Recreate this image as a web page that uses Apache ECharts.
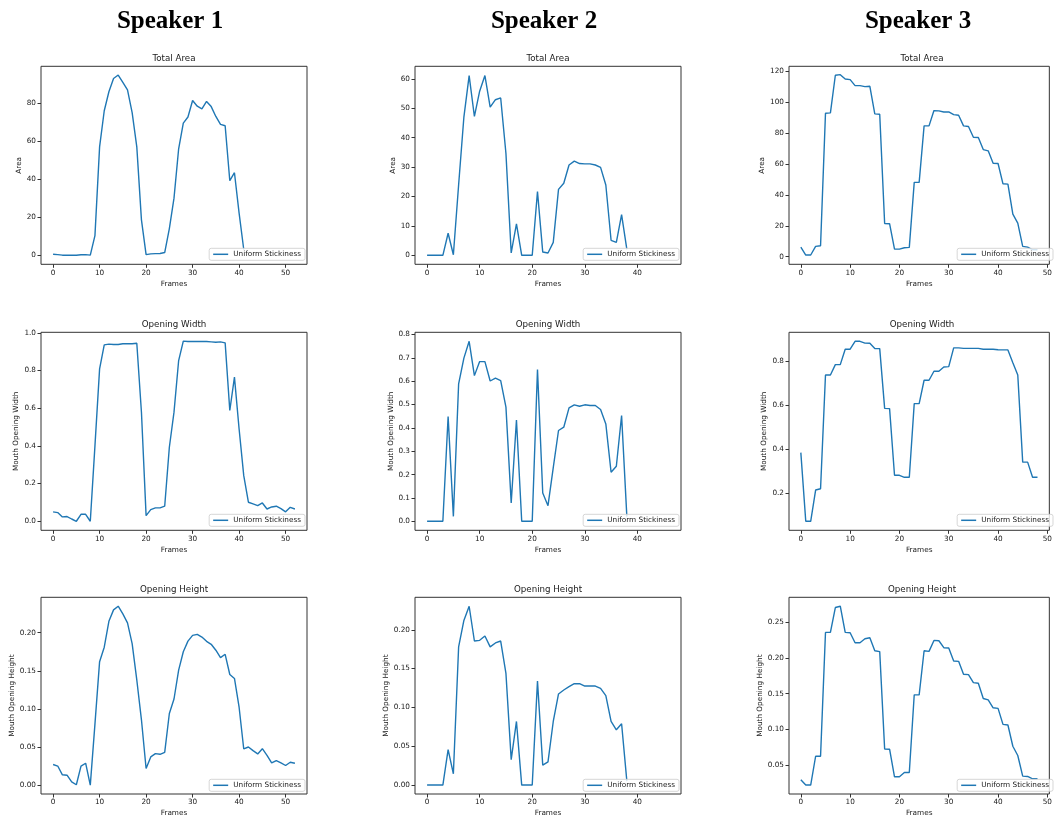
<!DOCTYPE html>
<html>
<head>
<meta charset="utf-8">
<script src="https://cdn.jsdelivr.net/npm/echarts@6/dist/echarts.min.js"></script>
<style>
html, body { margin: 0; padding: 0; background: #fff; }
#chart { width: 1055px; height: 818px; }
</style>
</head>
<body>
<div id="chart"></div>
<script>
var speakers = ['Speaker 1', 'Speaker 2', 'Speaker 3']
var metrics = ['Total Area', 'Opening Width', 'Opening Height']
var yNames = ['Area', 'Mouth Opening Width', 'Mouth Opening Height']
var seriesName = 'Uniform Stickiness'

// one value per frame (frame = index)
var area1 = [0.5, 0.3, 0, 0, 0, 0, 0.2, 0.3, 0, 10.3, 57, 76, 86, 93, 94.8, 91, 87, 75, 57, 18.6, 0.3, 0.7, 0.8, 0.9, 1.4, 14, 30, 56, 69.5, 72.7, 81.4, 78.4, 77, 80.9, 78.2, 73, 68.8, 68.1, 39.2, 43.4, 22.1, 3]
var area2 = [0, 0, 0, 0, 7.5, 0.2, 24, 47, 61.1, 47.2, 55.8, 61.1, 50.4, 52.9, 53.5, 34.6, 0.8, 10.7, 0, 0, 0, 21.7, 1.1, 0.8, 4.4, 22.4, 24.5, 30.7, 32, 31.2, 31.1, 31.1, 30.7, 29.9, 23.9, 5.1, 4.4, 13.8, 2]
var area3 = [6.2, 1.1, 1.1, 6.7, 7.1, 92.7, 92.9, 117.2, 117.6, 114.8, 114.4, 110.5, 110.5, 109.9, 110.1, 92.3, 92, 21.5, 21.3, 4.9, 4.9, 5.8, 6, 48, 48, 84.5, 84.5, 94.4, 94.2, 93.5, 93.5, 91.8, 91.4, 84.5, 84.1, 77.2, 77, 69.2, 68.4, 60.4, 60.2, 47.1, 46.9, 27.5, 21.7, 6.7, 6.2, 4.5, 4.5]

var width1 = [0.05, 0.046, 0.023, 0.025, 0.012, 0, 0.037, 0.037, 0, 0.40, 0.809, 0.936, 0.94, 0.938, 0.938, 0.942, 0.942, 0.942, 0.945, 0.579, 0.03, 0.062, 0.071, 0.071, 0.08, 0.393, 0.579, 0.853, 0.956, 0.954, 0.954, 0.954, 0.954, 0.954, 0.952, 0.95, 0.952, 0.947, 0.588, 0.765, 0.49, 0.242, 0.101, 0.092, 0.083, 0.097, 0.065, 0.076, 0.08, 0.067, 0.05, 0.074, 0.065]
var width2 = [0, 0, 0, 0, 0.449, 0.021, 0.589, 0.699, 0.771, 0.624, 0.684, 0.684, 0.601, 0.613, 0.603, 0.489, 0.079, 0.434, 0, 0, 0, 0.65, 0.121, 0.067, 0.23, 0.389, 0.403, 0.486, 0.499, 0.493, 0.499, 0.496, 0.496, 0.479, 0.417, 0.21, 0.236, 0.453, 0.02]
var width3 = [0.385, 0.073, 0.073, 0.215, 0.221, 0.738, 0.738, 0.785, 0.785, 0.855, 0.855, 0.891, 0.891, 0.883, 0.882, 0.858, 0.858, 0.586, 0.585, 0.282, 0.282, 0.273, 0.273, 0.608, 0.608, 0.714, 0.714, 0.755, 0.755, 0.774, 0.776, 0.861, 0.861, 0.859, 0.859, 0.859, 0.859, 0.855, 0.855, 0.855, 0.853, 0.852, 0.852, 0.794, 0.738, 0.342, 0.342, 0.273, 0.273]

var height1 = [0.027, 0.025, 0.0135, 0.013, 0.0043, 0.0004, 0.0248, 0.0287, 0, 0.08, 0.162, 0.181, 0.215, 0.23, 0.2348, 0.2248, 0.213, 0.1857, 0.138, 0.0857, 0.0217, 0.037, 0.0413, 0.0404, 0.043, 0.094, 0.113, 0.151, 0.175, 0.189, 0.1965, 0.1978, 0.1943, 0.1887, 0.1848, 0.177, 0.1674, 0.1717, 0.1452, 0.14, 0.1022, 0.0474, 0.05, 0.0452, 0.0409, 0.0478, 0.0391, 0.0291, 0.0322, 0.0291, 0.0257, 0.03, 0.0287]
var height2 = [0, 0, 0, 0, 0.0456, 0.0145, 0.178, 0.212, 0.2303, 0.1855, 0.1864, 0.1919, 0.178, 0.183, 0.1855, 0.1437, 0.0328, 0.0819, 0, 0, 0, 0.1339, 0.0256, 0.0299, 0.0819, 0.1173, 0.1224, 0.1267, 0.1305, 0.1305, 0.1275, 0.1275, 0.1275, 0.1245, 0.1151, 0.0819, 0.0712, 0.0789, 0.005]
var height3 = [0.0296, 0.0222, 0.0222, 0.0625, 0.0625, 0.2357, 0.2357, 0.2705, 0.2723, 0.2357, 0.2352, 0.2213, 0.2213, 0.2268, 0.2282, 0.2101, 0.2088, 0.0727, 0.0723, 0.0338, 0.0338, 0.0398, 0.0398, 0.1484, 0.1484, 0.2101, 0.2092, 0.2245, 0.224, 0.2143, 0.2138, 0.1957, 0.1952, 0.1771, 0.1767, 0.1655, 0.1646, 0.1433, 0.1414, 0.1303, 0.1294, 0.1071, 0.1062, 0.0765, 0.0635, 0.0347, 0.0342, 0.031, 0.031]

// tick labels
var xTicks = [[0, 10, 20, 30, 40, 50], [0, 10, 20, 30, 40], [0, 10, 20, 30, 40, 50]]
var areaTicks = [[0, 20, 40, 60, 80], [0, 10, 20, 30, 40, 50, 60], [0, 20, 40, 60, 80, 100, 120]]
var widthTicks = [[0, 0.2, 0.4, 0.6, 0.8, 1.0], [0, 0.1, 0.2, 0.3, 0.4, 0.5, 0.6, 0.7, 0.8], [0.2, 0.4, 0.6, 0.8]]
var heightTicks = [[0, 0.05, 0.10, 0.15, 0.20], [0, 0.05, 0.10, 0.15, 0.20], [0.05, 0.10, 0.15, 0.20, 0.25]]

// axis extents (matplotlib auto margins)
var xRange = [[-2.6, 54.6], [-2.3, 48.3], [-2.4, 50.4]]
var yRange = [
  [[-4.8, 99.4], [-3.06, 64.26], [-4.9, 123.0]],
  [[-0.048, 1.003], [-0.0386, 0.8096], [0.032, 0.932]],
  [[-0.0117, 0.2465], [-0.0115, 0.2418], [0.0097, 0.2848]]
]

var rows = [[area1, area2, area3], [width1, width2, width3], [height1, height2, height3]]
var yTicks = [areaTicks, widthTicks, heightTicks]
var decimals = [0, 1, 2]

// layout
var colLeft = [41, 415, 789]
var rowTop = [66.3, 332.3, 597.3]
var plotW = 266
var plotH = 198
var yNameGap = [[18, 18, 23], [21, 20, 21], [25, 24, 25]]
var font = 'DejaVu Sans'
var ink = '#1a1a1a'

var option = {
  animation: false,
  backgroundColor: '#fff',
  title: [],
  grid: [],
  xAxis: [],
  yAxis: [],
  legend: [],
  series: []
}

speakers.forEach(function (s, c) {
  option.title.push({
    text: s,
    left: colLeft[c] + plotW / 2 - 4,
    top: 9,
    textAlign: 'center',
    padding: 0,
    textStyle: { fontFamily: 'Liberation Serif', fontWeight: 'bold', fontSize: 25, color: '#000' }
  })
})

rows.forEach(function (row, r) {
  row.forEach(function (values, c) {
    var i = r * 3 + c
    var left = colLeft[c]
    var top = rowTop[r]
    var d = decimals[r]

    option.title.push({
      text: metrics[r],
      left: left + plotW / 2,
      top: top - 12.5,
      textAlign: 'center',
      padding: 0,
      textStyle: { fontFamily: font, fontWeight: 'normal', fontSize: 8.7, color: ink }
    })

    option.grid.push({
      left: left,
      top: top,
      width: plotW,
      height: plotH,
      show: true,
      borderColor: '#333',
      borderWidth: 1,
      backgroundColor: 'transparent'
    })

    option.xAxis.push({
      gridIndex: i,
      type: 'value',
      min: xRange[c][0],
      max: xRange[c][1],
      name: 'Frames',
      nameLocation: 'middle',
      nameGap: 16,
      nameTextStyle: { fontFamily: font, fontSize: 7.3, color: ink },
      axisLine: { show: false, onZero: false },
      splitLine: { show: false },
      axisTick: { show: true, length: 3.5, customValues: xTicks[c], lineStyle: { color: '#333', width: 1 } },
      axisLabel: { customValues: xTicks[c], margin: 5, fontFamily: font, fontSize: 7.3, color: ink }
    })

    option.yAxis.push({
      gridIndex: i,
      type: 'value',
      min: yRange[r][c][0],
      max: yRange[r][c][1],
      name: yNames[r],
      nameLocation: 'middle',
      nameGap: yNameGap[r][c],
      nameTextStyle: { fontFamily: font, fontSize: 7.3, color: ink },
      axisLine: { show: false, onZero: false },
      splitLine: { show: false },
      axisTick: { show: true, length: 3.5, customValues: yTicks[r][c], lineStyle: { color: '#333', width: 1 } },
      axisLabel: {
        customValues: yTicks[r][c],
        margin: 5,
        fontFamily: font,
        fontSize: 7.3,
        color: ink,
        formatter: function (v) { return Number(v).toFixed(d) }
      }
    })

    option.series.push({
      name: seriesName,
      type: 'line',
      xAxisIndex: i,
      yAxisIndex: i,
      symbol: 'none',
      data: values.map(function (v, k) { return [k, v] }),
      lineStyle: { color: '#1f77b4', width: 1.4 },
      itemStyle: { color: '#1f77b4' }
    })

    option.legend.push({
      data: [seriesName],
      right: 1055 - (left + plotW) + 2,
      bottom: 818 - (top + plotH) + 4,
      icon: 'rect',
      itemWidth: 15,
      itemHeight: 1.5,
      padding: [2.5, 4, 2.5, 4],
      backgroundColor: 'rgba(255,255,255,0.8)',
      borderColor: 'rgba(204,204,204,0.8)',
      borderWidth: 1,
      borderRadius: 2,
      selectedMode: false,
      textStyle: { fontFamily: font, fontSize: 7.3, color: ink }
    })
  })
})

var chart = echarts.init(document.getElementById('chart'), null, { renderer: 'canvas' })
chart.setOption(option)
</script>
</body>
</html>
